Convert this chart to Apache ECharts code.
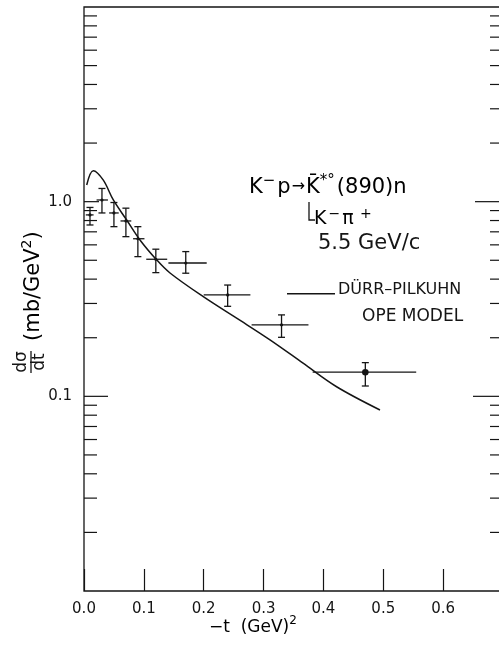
<!DOCTYPE html>
<html>
<head>
<meta charset="utf-8">
<script src="https://cdn.jsdelivr.net/npm/echarts@6/dist/echarts.min.js"></script>
<style>
  html, body { margin: 0; padding: 0; background: #fff; }
  #chart { width: 499px; height: 649px; }
</style>
</head>
<body>
<div id="chart"></div>
<script>
// -t bin centres and bin edges (GeV^2)
const tCenter = [0.01, 0.03, 0.05, 0.07, 0.09, 0.12, 0.17, 0.24, 0.33, 0.47];
const tLow    = [0.003, 0.021, 0.042, 0.061, 0.082, 0.104, 0.141, 0.200, 0.280, 0.382];
const tHigh   = [0.016, 0.040, 0.058, 0.079, 0.101, 0.139, 0.205, 0.278, 0.375, 0.555];

// measured dσ/dt and its error limits (mb/GeV^2)
const dsdt     = [0.855, 1.02, 0.875, 0.796, 0.645, 0.506, 0.484, 0.332, 0.233, 0.133];
const dsdtLow  = [0.759, 0.875, 0.744, 0.661, 0.522, 0.432, 0.429, 0.290, 0.201, 0.113];
const dsdtHigh = [0.934, 1.169, 0.990, 0.926, 0.744, 0.570, 0.554, 0.373, 0.262, 0.149];

// Dürr–Pilkuhn OPE model prediction
const modelT = [0.0045, 0.0155, 0.032, 0.049, 0.0713, 0.0935, 0.1215, 0.1437, 0.1993, 0.255, 0.3107, 0.366, 0.422, 0.4945];
const modelY = [1.218, 1.443, 1.293, 1.02, 0.805, 0.636, 0.502, 0.430, 0.325, 0.252, 0.195, 0.148, 0.112, 0.0851];

// axis ranges and tick positions
const tMin = 0, tMax = 0.7, tStep = 0.1;
const yMin = 0.01, yMax = 10;
const yMinorTicks = [0.02, 0.03, 0.04, 0.05, 0.06, 0.07, 0.08, 0.09,
                     0.2, 0.3, 0.4, 0.5, 0.6, 0.7, 0.8, 0.9,
                     2, 3, 4, 5, 6, 7, 8, 9];
const yTickLabels = { '1': '1.0', '0.1': '0.1' };

const FONT = 'DejaVu Sans';
const INK = '#151515';

const chart = echarts.init(document.getElementById('chart'), null, { renderer: 'canvas' });

// inward tick marks on both vertical frame edges: [x, y, length, direction]
const tickData = [];
yMinorTicks.forEach(v => {
  tickData.push([tMin, v, 13, 1]);
  tickData.push([tMax, v, 13, -1]);
});
tickData.push([tMin, 1, 15, 1], [tMin, 0.1, 24, 1]);
tickData.push([tMax, 1, 28, -1], [tMax, 0.1, 30, -1]);

const pointData = tCenter.map((t, i) => [t, dsdt[i], tLow[i], tHigh[i], dsdtLow[i], dsdtHigh[i]]);
const modelData = modelT.map((t, i) => [t, modelY[i]]);

const sup = { fontSize: 12, fontFamily: FONT, color: INK, verticalAlign: 'bottom', padding: [0, 0, 9, 0] };

const option = {
  backgroundColor: '#fff',
  animation: false,
  grid: {
    left: 84, top: 7, width: 419, bottom: 58,
    show: true, borderColor: INK, borderWidth: 1.3,
    outerBoundsMode: 'none', containLabel: false
  },
  xAxis: {
    type: 'value', min: tMin, max: tMax, interval: tStep,
    axisLine: { show: false },
    axisTick: { show: true, inside: true, length: 22, lineStyle: { color: INK, width: 1.2 } },
    splitLine: { show: false },
    axisLabel: {
      margin: 11, fontSize: 15, fontFamily: FONT, color: INK,
      formatter: v => (v > tMax - 1e-9 ? '' : v.toFixed(1))
    }
  },
  yAxis: {
    type: 'log', logBase: 10, min: yMin, max: yMax,
    axisLine: { show: false },
    axisTick: { show: false },
    splitLine: { show: false },
    minorTick: { show: false },
    axisLabel: {
      margin: 12, fontSize: 15, fontFamily: FONT, color: INK,
      formatter: v => {
        for (const k in yTickLabels) {
          if (Math.abs(v - Number(k)) < 1e-9 * Number(k) + 1e-12) return yTickLabels[k];
        }
        return '';
      }
    }
  },
  legend: {
    left: 287, top: 282, padding: 0, selectedMode: false,
    // thin rule sitting a little below the middle of the label
    icon: 'path://M0,0L0.01,0M0,7.6H48V9H0Z',
    itemWidth: 48, itemHeight: 9, itemGap: 0,
    textStyle: { fontSize: 16, fontFamily: FONT, color: INK, padding: [0, 0, 0, -2] },
    data: [{ name: 'DÜRR–PILKUHN' }]
  },
  series: [
    {
      name: 'DÜRR–PILKUHN',
      type: 'line',
      data: modelData,
      symbol: 'none',
      smooth: 0.35,
      lineStyle: { color: INK, width: 1.5 },
      itemStyle: { color: INK },
      z: 3
    },
    {
      name: 'data',
      type: 'custom',
      data: pointData,
      encode: { x: 0, y: 1 },
      renderItem: (params, api) => {
        const t = api.value(0), y = api.value(1);
        const c = api.coord([t, y]);
        const lo = api.coord([t, api.value(4)]);
        const hi = api.coord([t, api.value(5)]);
        const l = api.coord([api.value(2), y]);
        const r = api.coord([api.value(3), y]);
        const cap = 3.5;
        const s = { stroke: INK, lineWidth: 1.3 };
        const last = params.dataIndex === tCenter.length - 1;
        return {
          type: 'group',
          children: [
            { type: 'line', shape: { x1: c[0], y1: lo[1], x2: c[0], y2: hi[1] }, style: s },
            { type: 'line', shape: { x1: c[0] - cap, y1: lo[1], x2: c[0] + cap, y2: lo[1] }, style: s },
            { type: 'line', shape: { x1: c[0] - cap, y1: hi[1], x2: c[0] + cap, y2: hi[1] }, style: s },
            { type: 'line', shape: { x1: l[0], y1: c[1], x2: r[0], y2: c[1] }, style: s },
            { type: 'circle', shape: { cx: c[0], cy: c[1], r: last ? 3.3 : 1.6 }, style: { fill: INK } }
          ]
        };
      },
      z: 4
    },
    {
      name: 'ticks',
      type: 'custom',
      data: tickData,
      encode: { x: 0, y: 1 },
      silent: true,
      renderItem: (params, api) => {
        const p = api.coord([api.value(0), api.value(1)]);
        return {
          type: 'line',
          shape: { x1: p[0], y1: p[1], x2: p[0] + api.value(3) * api.value(2), y2: p[1] },
          style: { stroke: INK, lineWidth: 1.2 }
        };
      },
      z: 2
    }
  ],
  graphic: [
    // reaction label
    {
      type: 'text', left: 249, top: 174,
      style: {
        text: '{n|K}{s|−}{n|p}{a|→}{n|K̄}{s|*°}{n|(890)n}',
        rich: {
          n: { fontSize: 21, fontFamily: FONT, color: INK, verticalAlign: 'bottom' },
          a: { fontSize: 16, fontFamily: FONT, color: INK, verticalAlign: 'bottom', padding: [0, 1, 3, 1] },
          s: Object.assign({}, sup, { fontSize: 15, padding: [0, 2, 9, 0] })
        }
      }
    },
    {
      type: 'polyline',
      shape: { points: [[309, 202], [309, 220], [315, 220]] },
      style: { stroke: INK, lineWidth: 1.3, fill: null }
    },
    {
      type: 'text', left: 314, top: 207,
      style: {
        text: '{n|K}{s|−}{n|π}{s| +}',
        rich: {
          n: { fontSize: 19, fontFamily: FONT, color: INK, verticalAlign: 'bottom' },
          s: Object.assign({}, sup, { fontSize: 14, padding: [0, 2, 8, 2] })
        }
      }
    },
    {
      type: 'text', left: 318, top: 233,
      style: { text: '5.5 GeV/c', fontSize: 21, fontFamily: FONT, fill: INK }
    },
    {
      type: 'text', left: 362, top: 308,
      style: { text: 'OPE MODEL', fontSize: 17, fontFamily: FONT, fill: INK }
    },
    // x-axis title
    {
      type: 'text', left: 209, top: 615,
      style: {
        text: '{n|−t  (GeV)}{s|2}',
        rich: {
          n: { fontSize: 17, fontFamily: FONT, color: INK, verticalAlign: 'bottom' },
          s: sup
        }
      }
    },
    // y-axis title, read bottom to top
    {
      type: 'group', x: 31, y: 362, rotation: Math.PI / 2,
      children: [
        { type: 'line', shape: { x1: -11, y1: 0, x2: 11, y2: 0 }, style: { stroke: INK, lineWidth: 1.3 } },
        { type: 'text', x: 0, y: -9, style: { text: 'dσ', fontSize: 17, fontFamily: FONT, fill: INK, align: 'center', verticalAlign: 'middle' } },
        { type: 'text', x: 0, y: 9, style: { text: 'dt', fontSize: 17, fontFamily: FONT, fill: INK, align: 'center', verticalAlign: 'middle' } },
        {
          type: 'text', x: 21, y: 1,
          style: {
            text: '{n|(mb/GeV}{s|2}{n|)}',
            align: 'left', verticalAlign: 'middle',
            rich: {
              n: { fontSize: 21, fontFamily: FONT, color: INK, verticalAlign: 'bottom' },
              s: Object.assign({}, sup, { fontSize: 14, padding: [0, 0, 10, 0] })
            }
          }
        }
      ]
    }
  ]
};

chart.setOption(option);
</script>
</body>
</html>
